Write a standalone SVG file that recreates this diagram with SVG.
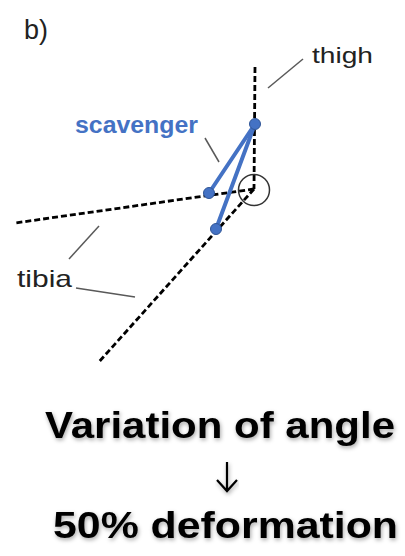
<svg xmlns="http://www.w3.org/2000/svg" width="405" height="556" viewBox="0 0 405 556">
<style>
.dash{fill:none;stroke:#000;stroke-width:2.8;stroke-dasharray:6 3}
.lead{fill:none;stroke:#595959;stroke-width:1.5}
.blue{fill:none;stroke:#4472C4;stroke-width:4;stroke-linecap:round}
.dot{fill:#4472C4;stroke:#2F5597;stroke-width:1}
.lbl{font-family:"Liberation Sans",Arial,sans-serif;fill:#222}
.big{font-family:"Liberation Sans",Arial,sans-serif;font-weight:bold;fill:#000;filter:url(#sh)}
.arr{fill:none;stroke:#000;stroke-width:2.2;filter:url(#sh)}
</style>
<defs>
<filter id="sh" x="-10%" y="-30%" width="120%" height="160%">
<feDropShadow dx="1" dy="2" stdDeviation="2" flood-color="#000" flood-opacity="0.35"/>
</filter>
</defs>
<rect width="405" height="556" fill="#fff"/>
<g id="connectors">
<line class="dash" x1="255" y1="67" x2="254" y2="189"/>
<line class="dash" x1="254" y1="189" x2="15" y2="223"/>
<line class="dash" x1="254" y1="189" x2="98" y2="363"/>
<line class="lead" x1="268" y1="88" x2="303" y2="59"/>
<line class="lead" x1="205" y1="138" x2="219" y2="162"/>
<line class="lead" x1="69" y1="259" x2="99" y2="226"/>
<line class="lead" x1="76" y1="288" x2="135" y2="297"/>
</g>
<g id="joint"><circle cx="254" cy="190" r="15.5" fill="none" stroke="#333" stroke-width="1.5"/></g>
<g id="scavenger">
<line class="blue" x1="255" y1="124" x2="209" y2="193"/>
<line class="blue" x1="255" y1="124" x2="216" y2="229"/>
<circle class="dot" cx="255" cy="124" r="5.5"/>
<circle class="dot" cx="209" cy="193" r="5.5"/>
<circle class="dot" cx="216" cy="229" r="5.5"/>
</g>
<g id="labels">
<text class="lbl" x="24" y="39" font-size="27">b)</text>
<text class="lbl" x="312" y="63" font-size="22" textLength="61" lengthAdjust="spacingAndGlyphs">thigh</text>
<text class="lbl" x="17" y="287" font-size="24" textLength="55" lengthAdjust="spacingAndGlyphs">tibia</text>
<text x="75" y="133" font-size="23" font-weight="bold" font-family="Liberation Sans,Arial,sans-serif" fill="#4472C4" textLength="123" lengthAdjust="spacingAndGlyphs">scavenger</text>
</g>
<g id="result">
<text class="big" x="45" y="438" font-size="36" textLength="350" lengthAdjust="spacingAndGlyphs">Variation of angle</text>
<path class="arr" d="M227 462V491M217 480L227 491L237 480"/>
<text class="big" x="53" y="538" font-size="36" textLength="345" lengthAdjust="spacingAndGlyphs">50% deformation</text>
</g>
</svg>
